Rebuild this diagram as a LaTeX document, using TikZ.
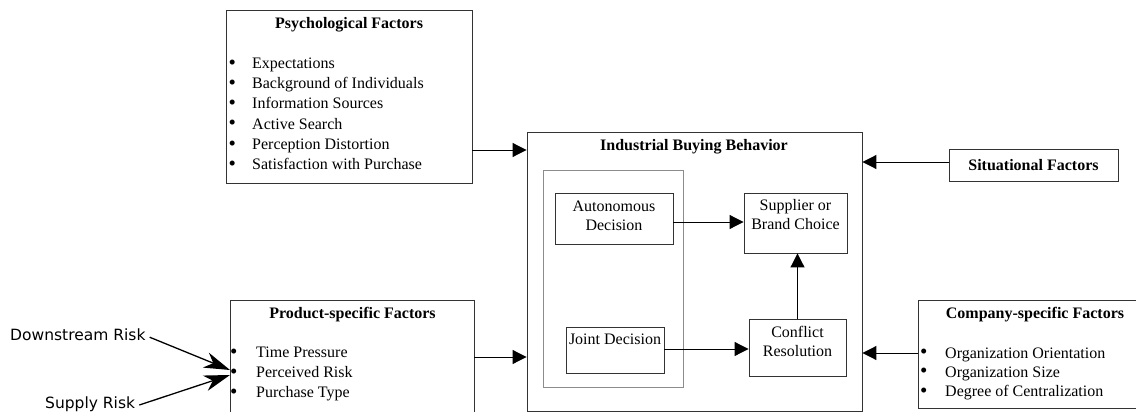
\documentclass[tikz,border=0pt]{standalone}
\usepackage{fontspec}
\setmainfont{Liberation Serif}
\newfontfamily\annfont{DejaVu Sans}
\usetikzlibrary{arrows.meta}
\newcommand{\bul}{\raisebox{-0.6pt}{\fontsize{21}{20}\selectfont•}}
\begin{document}
\begin{tikzpicture}[x=1pt,y=-1pt,
  box/.style={draw=black!80, line width=0.9pt, inner sep=0pt},
  grp/.style={draw=black!45, line width=0.6pt, inner sep=0pt},
  ttl/.style={font=\fontsize{16}{20}\selectfont\bfseries, inner sep=0pt},
  txt/.style={font=\fontsize{16}{19}\selectfont, inner sep=0pt, align=center},
  item/.style={font=\fontsize{16}{20}\selectfont, inner sep=0pt, anchor=base west},
  ann/.style={font=\annfont\fontsize{15.5}{18}\selectfont, inner sep=0pt, anchor=base west},
  arr/.style={line width=1pt, -{Triangle[length=14pt,width=14pt]}},
  bigarr/.style={line width=1.3pt, -{Stealth[length=26pt,width=16pt,inset=8pt]}}
]
\clip (0,0) rectangle (1136,412);

% boxes
\node[box, minimum width=246pt, minimum height=173pt] (psych) at (349,96.5) {};
\node[box, minimum width=244pt, minimum height=130pt] (prod) at (352,365) {};
\node[box, minimum width=335pt, minimum height=279pt] (ind) at (694.5,271.5) {};
\node[grp, minimum width=140pt, minimum height=217pt] (grp) at (613,278.5) {};
\node[box, minimum width=118pt, minimum height=51pt] (auto) at (614,218.5) {};
\node[box, minimum width=103pt, minimum height=60pt] (sup) at (795.5,223) {};
\node[box, minimum width=98pt, minimum height=46pt] (joint) at (615,350) {};
\node[box, minimum width=97pt, minimum height=57pt] (conf) at (797.5,347.5) {};
\node[box, minimum width=169pt, minimum height=32pt, ttl] (sit) at (1033.5,165) {Situational Factors};
\node[box, minimum width=234pt, minimum height=108pt] (comp) at (1035,354) {};

% titles
\node[ttl, anchor=base] (psychT) at (349,29) {Psychological Factors};
\node[ttl, anchor=base] (prodT) at (352.5,318.6) {Product-specific Factors};
\node[ttl, anchor=base] (indT) at (694,150) {Industrial Buying Behavior};
\node[ttl, anchor=base] (compT) at (1035,318) {Company-specific Factors};

% inner texts
\node[txt] (autoT) at (614,215.5) {Autonomous\\Decision};
\node[txt] (supT) at (795.5,215) {Supplier or\\Brand Choice};
\node[txt] (jointT) at (615,339) {Joint Decision};
\node[txt] (confT) at (797.5,341) {Conflict\\Resolution};

% bullet lists
\foreach \t [count=\i from 0] in {Expectations,Background of Individuals,Information Sources,Active Search,Perception Distortion,Satisfaction with Purchase}
  \node[item] (ps\i) at (228.5,68.6+20.2*\i) {\makebox[23.5pt][l]{\bul}\t};
\foreach \t [count=\i from 0] in {Time Pressure,Perceived Risk,Purchase Type}
  \node[item] (pr\i) at (230,357.5+20*\i) {\makebox[26pt][l]{\bul}\t};
\foreach \t [count=\i from 0] in {Organization Orientation,Organization Size,Degree of Centralization}
  \node[item] (co\i) at (920,358+19.3*\i) {\makebox[25pt][l]{\bul}\t};

% annotations
\node[ann] (down) at (10,340) {Downstream Risk};
\node[ann] (supply) at (45,408.3) {Supply Risk};
\coordinate (dtip) at (230,370);
\coordinate (stip) at (230,375);

% connectors
\draw[arr] (psych.east |- 0,150) -- (ind.west |- 0,150);
\draw[arr] (prod.east |- 0,357) -- (ind.west |- 0,357);
\draw[arr] (sit.west |- 0,162) -- (ind.east |- 0,162);
\draw[arr] (comp.west |- 0,353) -- (ind.east |- 0,353);
\draw[arr] (auto.east |- 0,222) -- (sup.west |- 0,222);
\draw[arr] (joint.east |- 0,349) -- (conf.west |- 0,349);
\draw[arr] (conf.north) -- (sup.south -| conf.north);
\draw[bigarr] ([xshift=4pt,yshift=-3pt]down.east) -- (dtip);
\draw[bigarr] ([xshift=4pt,yshift=-1pt]supply.east) -- (stip);
\end{tikzpicture}
\end{document}
